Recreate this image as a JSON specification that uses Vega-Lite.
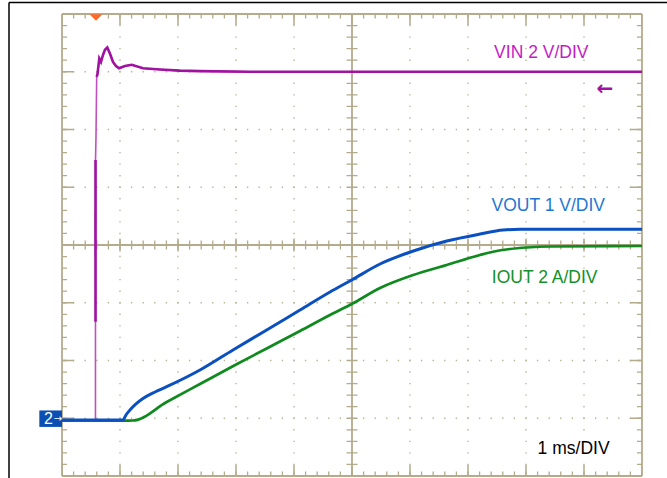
{
  "$schema": "https://vega.github.io/schema/vega-lite/v6.json",
  "width": 580,
  "height": 462,
  "autosize": "none",
  "padding": {"left": 62, "top": 14, "right": 25, "bottom": 2},
  "background": "white",
  "config": {"view": {"stroke": null}, "font": "Liberation Sans"},
  "datasets": {
    "vgrid": [{"x": 1}, {"x": 2}, {"x": 3}, {"x": 4}, {"x": 6}, {"x": 7}, {"x": 8}, {"x": 9}],
    "hgrid": [{"y": 1}, {"y": 2}, {"y": 3}, {"y": 5}, {"y": 6}, {"y": 7}],
    "vborder": [{"x": 0}, {"x": 10}],
    "hborder": [{"y": 0}, {"y": 8}],
    "vin": [
      {"x": 0, "y": 0.96}, {"x": 0.577, "y": 0.96}, {"x": 0.578, "y": 5.47}, {"x": 0.586, "y": 5.87},
      {"x": 0.598, "y": 6.91}, {"x": 0.612, "y": 6.96}, {"x": 0.643, "y": 7.23}, {"x": 0.672, "y": 7.17},
      {"x": 0.707, "y": 7.29}, {"x": 0.741, "y": 7.38}, {"x": 0.781, "y": 7.42}, {"x": 0.828, "y": 7.31},
      {"x": 0.879, "y": 7.17}, {"x": 0.931, "y": 7.1}, {"x": 0.983, "y": 7.06}, {"x": 1.086, "y": 7.1},
      {"x": 1.202, "y": 7.12}, {"x": 1.397, "y": 7.06}, {"x": 1.69, "y": 7.04}, {"x": 2.03, "y": 7.02},
      {"x": 2.38, "y": 7.01}, {"x": 3.24, "y": 7.0}, {"x": 10, "y": 7.0}
    ],
    "vinrise": [{"x": 0.578, "y": 2.67}, {"x": 0.5781, "y": 5.47}],
    "vout": [
      {"x": 0, "y": 0.97}, {"x": 1.052, "y": 0.97}, {"x": 1.103, "y": 1.056}, {"x": 1.172, "y": 1.143},
      {"x": 1.276, "y": 1.247}, {"x": 1.402, "y": 1.345}, {"x": 1.603, "y": 1.455}, {"x": 1.805, "y": 1.546},
      {"x": 2.379, "y": 1.835}, {"x": 2.948, "y": 2.182}, {"x": 3.529, "y": 2.528}, {"x": 4.103, "y": 2.874},
      {"x": 4.621, "y": 3.186}, {"x": 4.995, "y": 3.394}, {"x": 5.483, "y": 3.671}, {"x": 6.057, "y": 3.896},
      {"x": 6.633, "y": 4.069}, {"x": 7.207, "y": 4.19}, {"x": 7.603, "y": 4.26}, {"x": 7.897, "y": 4.272},
      {"x": 10, "y": 4.272}
    ],
    "iout": [
      {"x": 0, "y": 0.96}, {"x": 1.052, "y": 0.96}, {"x": 1.224, "y": 0.961}, {"x": 1.805, "y": 1.281},
      {"x": 2.379, "y": 1.593}, {"x": 2.953, "y": 1.905}, {"x": 3.529, "y": 2.208}, {"x": 4.103, "y": 2.511},
      {"x": 4.621, "y": 2.788}, {"x": 4.995, "y": 2.978}, {"x": 5.483, "y": 3.255}, {"x": 6.057, "y": 3.481},
      {"x": 6.633, "y": 3.654}, {"x": 7.207, "y": 3.827}, {"x": 7.431, "y": 3.884}, {"x": 7.724, "y": 3.931},
      {"x": 8.012, "y": 3.957}, {"x": 8.414, "y": 3.974}, {"x": 10, "y": 3.983}
    ]
  },
  "layer": [
    {
      "data": {"name": "vgrid"},
      "mark": {"type": "rule", "color": "#bdb497", "strokeWidth": 1.4, "strokeDash": [1.4, 10.15], "strokeDashOffset": 0.7},
      "encoding": {
        "x": {"field": "x", "type": "quantitative", "scale": {"domain": [0, 10], "nice": false, "zero": false}, "axis": null},
        "y": {"datum": 0, "type": "quantitative", "scale": {"domain": [0, 8], "nice": false, "zero": false}, "axis": null},
        "y2": {"datum": 8}
      }
    },
    {
      "data": {"name": "hgrid"},
      "mark": {"type": "rule", "color": "#bdb497", "strokeWidth": 1.4, "strokeDash": [1.4, 10.2], "strokeDashOffset": 0.7},
      "encoding": {
        "y": {"field": "y", "type": "quantitative", "scale": {"domain": [0, 8], "nice": false, "zero": false}, "axis": null},
        "x": {"datum": 0, "type": "quantitative", "scale": {"domain": [0, 10], "nice": false, "zero": false}, "axis": null},
        "x2": {"datum": 10}
      }
    },
    {
      "data": {"name": "vborder"},
      "mark": {"type": "rule", "color": "#b4aa8c", "strokeWidth": 10, "strokeDash": [1.3, 10.25], "strokeDashOffset": 0.65, "clip": true},
      "encoding": {
        "x": {"field": "x", "type": "quantitative", "scale": {"domain": [0, 10], "nice": false, "zero": false}, "axis": null},
        "y": {"datum": 0, "type": "quantitative", "scale": {"domain": [0, 8], "nice": false, "zero": false}, "axis": null},
        "y2": {"datum": 8}
      }
    },
    {
      "data": {"name": "hborder"},
      "mark": {"type": "rule", "color": "#b4aa8c", "strokeWidth": 9, "strokeDash": [1.3, 10.3], "strokeDashOffset": 0.65, "clip": true},
      "encoding": {
        "y": {"field": "y", "type": "quantitative", "scale": {"domain": [0, 8], "nice": false, "zero": false}, "axis": null},
        "x": {"datum": 0, "type": "quantitative", "scale": {"domain": [0, 10], "nice": false, "zero": false}, "axis": null},
        "x2": {"datum": 10}
      }
    },
    {
      "data": {"name": "vborder"},
      "mark": {"type": "rule", "color": "#b4aa8c", "strokeWidth": 24, "strokeDash": [1.5, 56.25], "strokeDashOffset": 0.75, "clip": true},
      "encoding": {
        "x": {"field": "x", "type": "quantitative", "scale": {"domain": [0, 10], "nice": false, "zero": false}, "axis": null},
        "y": {"datum": 0, "type": "quantitative", "scale": {"domain": [0, 8], "nice": false, "zero": false}, "axis": null},
        "y2": {"datum": 8}
      }
    },
    {
      "data": {"name": "hborder"},
      "mark": {"type": "rule", "color": "#b4aa8c", "strokeWidth": 22, "strokeDash": [1.5, 56.5], "strokeDashOffset": 0.75, "clip": true},
      "encoding": {
        "y": {"field": "y", "type": "quantitative", "scale": {"domain": [0, 8], "nice": false, "zero": false}, "axis": null},
        "x": {"datum": 0, "type": "quantitative", "scale": {"domain": [0, 10], "nice": false, "zero": false}, "axis": null},
        "x2": {"datum": 10}
      }
    },
    {
      "data": {"values": [{"x": 0}, {"x": 5}, {"x": 10}]},
      "mark": {"type": "rule", "color": "#b4aa8c", "strokeWidth": 1.8},
      "encoding": {
        "x": {"field": "x", "type": "quantitative", "scale": {"domain": [0, 10], "nice": false, "zero": false}, "axis": null},
        "y": {"datum": 0, "type": "quantitative", "scale": {"domain": [0, 8], "nice": false, "zero": false}, "axis": null},
        "y2": {"datum": 8}
      }
    },
    {
      "data": {"values": [{"y": 0}, {"y": 4}, {"y": 8}]},
      "mark": {"type": "rule", "color": "#b4aa8c", "strokeWidth": 1.8},
      "encoding": {
        "y": {"field": "y", "type": "quantitative", "scale": {"domain": [0, 8], "nice": false, "zero": false}, "axis": null},
        "x": {"datum": 0, "type": "quantitative", "scale": {"domain": [0, 10], "nice": false, "zero": false}, "axis": null},
        "x2": {"datum": 10}
      }
    },
    {
      "data": {"values": [{"x": 5}]},
      "mark": {"type": "rule", "color": "#b4aa8c", "strokeWidth": 11, "strokeDash": [1.3, 10.25], "strokeDashOffset": 0.65},
      "encoding": {
        "x": {"field": "x", "type": "quantitative", "scale": {"domain": [0, 10], "nice": false, "zero": false}, "axis": null},
        "y": {"datum": 0, "type": "quantitative", "scale": {"domain": [0, 8], "nice": false, "zero": false}, "axis": null},
        "y2": {"datum": 8}
      }
    },
    {
      "data": {"values": [{"y": 4}]},
      "mark": {"type": "rule", "color": "#b4aa8c", "strokeWidth": 9, "strokeDash": [1.3, 10.3], "strokeDashOffset": 0.65},
      "encoding": {
        "y": {"field": "y", "type": "quantitative", "scale": {"domain": [0, 8], "nice": false, "zero": false}, "axis": null},
        "x": {"datum": 0, "type": "quantitative", "scale": {"domain": [0, 10], "nice": false, "zero": false}, "axis": null},
        "x2": {"datum": 10}
      }
    },
    {
      "data": {"values": [{"y": 4}]},
      "mark": {"type": "rule", "color": "#b4aa8c", "strokeWidth": 13, "strokeDash": [1.5, 56.5], "strokeDashOffset": 0.75},
      "encoding": {
        "y": {"field": "y", "type": "quantitative", "scale": {"domain": [0, 8], "nice": false, "zero": false}, "axis": null},
        "x": {"datum": 0, "type": "quantitative", "scale": {"domain": [0, 10], "nice": false, "zero": false}, "axis": null},
        "x2": {"datum": 10}
      }
    },
    {
      "data": {"values": [{"y": 8.199}]},
      "mark": {"type": "rule", "color": "#000000", "strokeWidth": 1.5},
      "encoding": {
        "y": {"field": "y", "type": "quantitative", "scale": {"domain": [0, 8], "nice": false, "zero": false}, "axis": null},
        "x": {"datum": -0.9138, "type": "quantitative", "scale": {"domain": [0, 10], "nice": false, "zero": false}, "axis": null},
        "x2": {"datum": 10.45}
      }
    },
    {
      "data": {"values": [{"x": -0.9138}]},
      "mark": {"type": "rule", "color": "#000000", "strokeWidth": 1.5},
      "encoding": {
        "x": {"field": "x", "type": "quantitative", "scale": {"domain": [0, 10], "nice": false, "zero": false}, "axis": null},
        "y": {"datum": 8.199, "type": "quantitative", "scale": {"domain": [0, 8], "nice": false, "zero": false}, "axis": null},
        "y2": {"datum": -0.1}
      }
    },
    {
      "data": {"name": "vin"},
      "mark": {"type": "line", "color": "#c050c0", "strokeWidth": 1.6},
      "encoding": {
        "x": {"field": "x", "type": "quantitative", "scale": {"domain": [0, 10], "nice": false, "zero": false}, "axis": null},
        "y": {"field": "y", "type": "quantitative", "scale": {"domain": [0, 8], "nice": false, "zero": false}, "axis": null}
      }
    },
    {
      "data": {"name": "vin"},
      "transform": [{"filter": "datum.x > 0.59"}],
      "mark": {"type": "line", "color": "#a012a0", "strokeWidth": 2.6},
      "encoding": {
        "x": {"field": "x", "type": "quantitative", "scale": {"domain": [0, 10], "nice": false, "zero": false}, "axis": null},
        "y": {"field": "y", "type": "quantitative", "scale": {"domain": [0, 8], "nice": false, "zero": false}, "axis": null}
      }
    },
    {
      "data": {"name": "vinrise"},
      "mark": {"type": "line", "color": "#a012a0", "strokeWidth": 2.6},
      "encoding": {
        "x": {"field": "x", "type": "quantitative", "scale": {"domain": [0, 10], "nice": false, "zero": false}, "axis": null},
        "y": {"field": "y", "type": "quantitative", "scale": {"domain": [0, 8], "nice": false, "zero": false}, "axis": null}
      }
    },
    {
      "data": {"name": "iout"},
      "mark": {"type": "line", "color": "#0f8a1e", "strokeWidth": 2.7, "interpolate": "monotone"},
      "encoding": {
        "x": {"field": "x", "type": "quantitative", "scale": {"domain": [0, 10], "nice": false, "zero": false}, "axis": null},
        "y": {"field": "y", "type": "quantitative", "scale": {"domain": [0, 8], "nice": false, "zero": false}, "axis": null}
      }
    },
    {
      "data": {"name": "vout"},
      "mark": {"type": "line", "color": "#0a50c0", "strokeWidth": 3, "interpolate": "monotone"},
      "encoding": {
        "x": {"field": "x", "type": "quantitative", "scale": {"domain": [0, 10], "nice": false, "zero": false}, "axis": null},
        "y": {"field": "y", "type": "quantitative", "scale": {"domain": [0, 8], "nice": false, "zero": false}, "axis": null}
      }
    },
    {
      "data": {"values": [{"x": 7.45, "y": 7.233, "label": "VIN 2 V/DIV"}]},
      "mark": {"type": "text", "color": "#c41cc4", "fontSize": 17.5, "align": "left", "baseline": "alphabetic"},
      "encoding": {
        "x": {"field": "x", "type": "quantitative", "scale": {"domain": [0, 10], "nice": false, "zero": false}, "axis": null},
        "y": {"field": "y", "type": "quantitative", "scale": {"domain": [0, 8], "nice": false, "zero": false}, "axis": null},
        "text": {"field": "label"}
      }
    },
    {
      "data": {"values": [{"x": 7.405, "y": 4.589, "label": "VOUT 1 V/DIV"}]},
      "mark": {"type": "text", "color": "#1e78d2", "fontSize": 17.5, "align": "left", "baseline": "alphabetic"},
      "encoding": {
        "x": {"field": "x", "type": "quantitative", "scale": {"domain": [0, 10], "nice": false, "zero": false}, "axis": null},
        "y": {"field": "y", "type": "quantitative", "scale": {"domain": [0, 8], "nice": false, "zero": false}, "axis": null},
        "text": {"field": "label"}
      }
    },
    {
      "data": {"values": [{"x": 7.41, "y": 3.342, "label": "IOUT 2 A/DIV"}]},
      "mark": {"type": "text", "color": "#13902a", "fontSize": 17.5, "align": "left", "baseline": "alphabetic"},
      "encoding": {
        "x": {"field": "x", "type": "quantitative", "scale": {"domain": [0, 10], "nice": false, "zero": false}, "axis": null},
        "y": {"field": "y", "type": "quantitative", "scale": {"domain": [0, 8], "nice": false, "zero": false}, "axis": null},
        "text": {"field": "label"}
      }
    },
    {
      "data": {"values": [{"x": 8.2, "y": 0.381, "label": "1 ms/DIV"}]},
      "mark": {"type": "text", "color": "#000000", "fontSize": 17.5, "align": "left", "baseline": "alphabetic"},
      "encoding": {
        "x": {"field": "x", "type": "quantitative", "scale": {"domain": [0, 10], "nice": false, "zero": false}, "axis": null},
        "y": {"field": "y", "type": "quantitative", "scale": {"domain": [0, 8], "nice": false, "zero": false}, "axis": null},
        "text": {"field": "label"}
      }
    },
    {
      "data": {"values": [{"x": 0.586, "y": 7.94}]},
      "mark": {"type": "point", "shape": "M-1,-0.5L1,-0.5L0,0.5Z", "size": 169, "filled": true, "color": "#ff6a28", "opacity": 1},
      "encoding": {
        "x": {"field": "x", "type": "quantitative", "scale": {"domain": [0, 10], "nice": false, "zero": false}, "axis": null},
        "y": {"field": "y", "type": "quantitative", "scale": {"domain": [0, 8], "nice": false, "zero": false}, "axis": null}
      }
    },
    {
      "data": {"values": [{"x": 9.36, "y": 6.70, "label": "←"}]},
      "mark": {"type": "text", "color": "#a012a0", "fontSize": 20, "fontWeight": "bold", "font": "DejaVu Sans", "align": "center", "baseline": "middle"},
      "encoding": {
        "x": {"field": "x", "type": "quantitative", "scale": {"domain": [0, 10], "nice": false, "zero": false}, "axis": null},
        "y": {"field": "y", "type": "quantitative", "scale": {"domain": [0, 8], "nice": false, "zero": false}, "axis": null},
        "text": {"field": "label"}
      }
    },
    {
      "data": {"values": [{"x": -0.391, "x2": 0, "y": 0.85, "y2": 1.135}]},
      "mark": {"type": "rect", "color": "#0a50b4", "opacity": 1},
      "encoding": {
        "x": {"field": "x", "type": "quantitative", "scale": {"domain": [0, 10], "nice": false, "zero": false}, "axis": null},
        "x2": {"field": "x2"},
        "y": {"field": "y", "type": "quantitative", "scale": {"domain": [0, 8], "nice": false, "zero": false}, "axis": null},
        "y2": {"field": "y2"}
      }
    },
    {
      "data": {"values": [{"x": -0.235, "y": 0.985, "label": "2"}]},
      "mark": {"type": "text", "color": "#ffffff", "fontSize": 16, "align": "center", "baseline": "middle"},
      "encoding": {
        "x": {"field": "x", "type": "quantitative", "scale": {"domain": [0, 10], "nice": false, "zero": false}, "axis": null},
        "y": {"field": "y", "type": "quantitative", "scale": {"domain": [0, 8], "nice": false, "zero": false}, "axis": null},
        "text": {"field": "label"}
      }
    },
    {
      "data": {"values": [{"x": -0.07, "y": 0.99, "label": "→"}]},
      "mark": {"type": "text", "color": "#ffffff", "fontSize": 10, "font": "DejaVu Sans", "align": "center", "baseline": "middle"},
      "encoding": {
        "x": {"field": "x", "type": "quantitative", "scale": {"domain": [0, 10], "nice": false, "zero": false}, "axis": null},
        "y": {"field": "y", "type": "quantitative", "scale": {"domain": [0, 8], "nice": false, "zero": false}, "axis": null},
        "text": {"field": "label"}
      }
    }
  ]
}
